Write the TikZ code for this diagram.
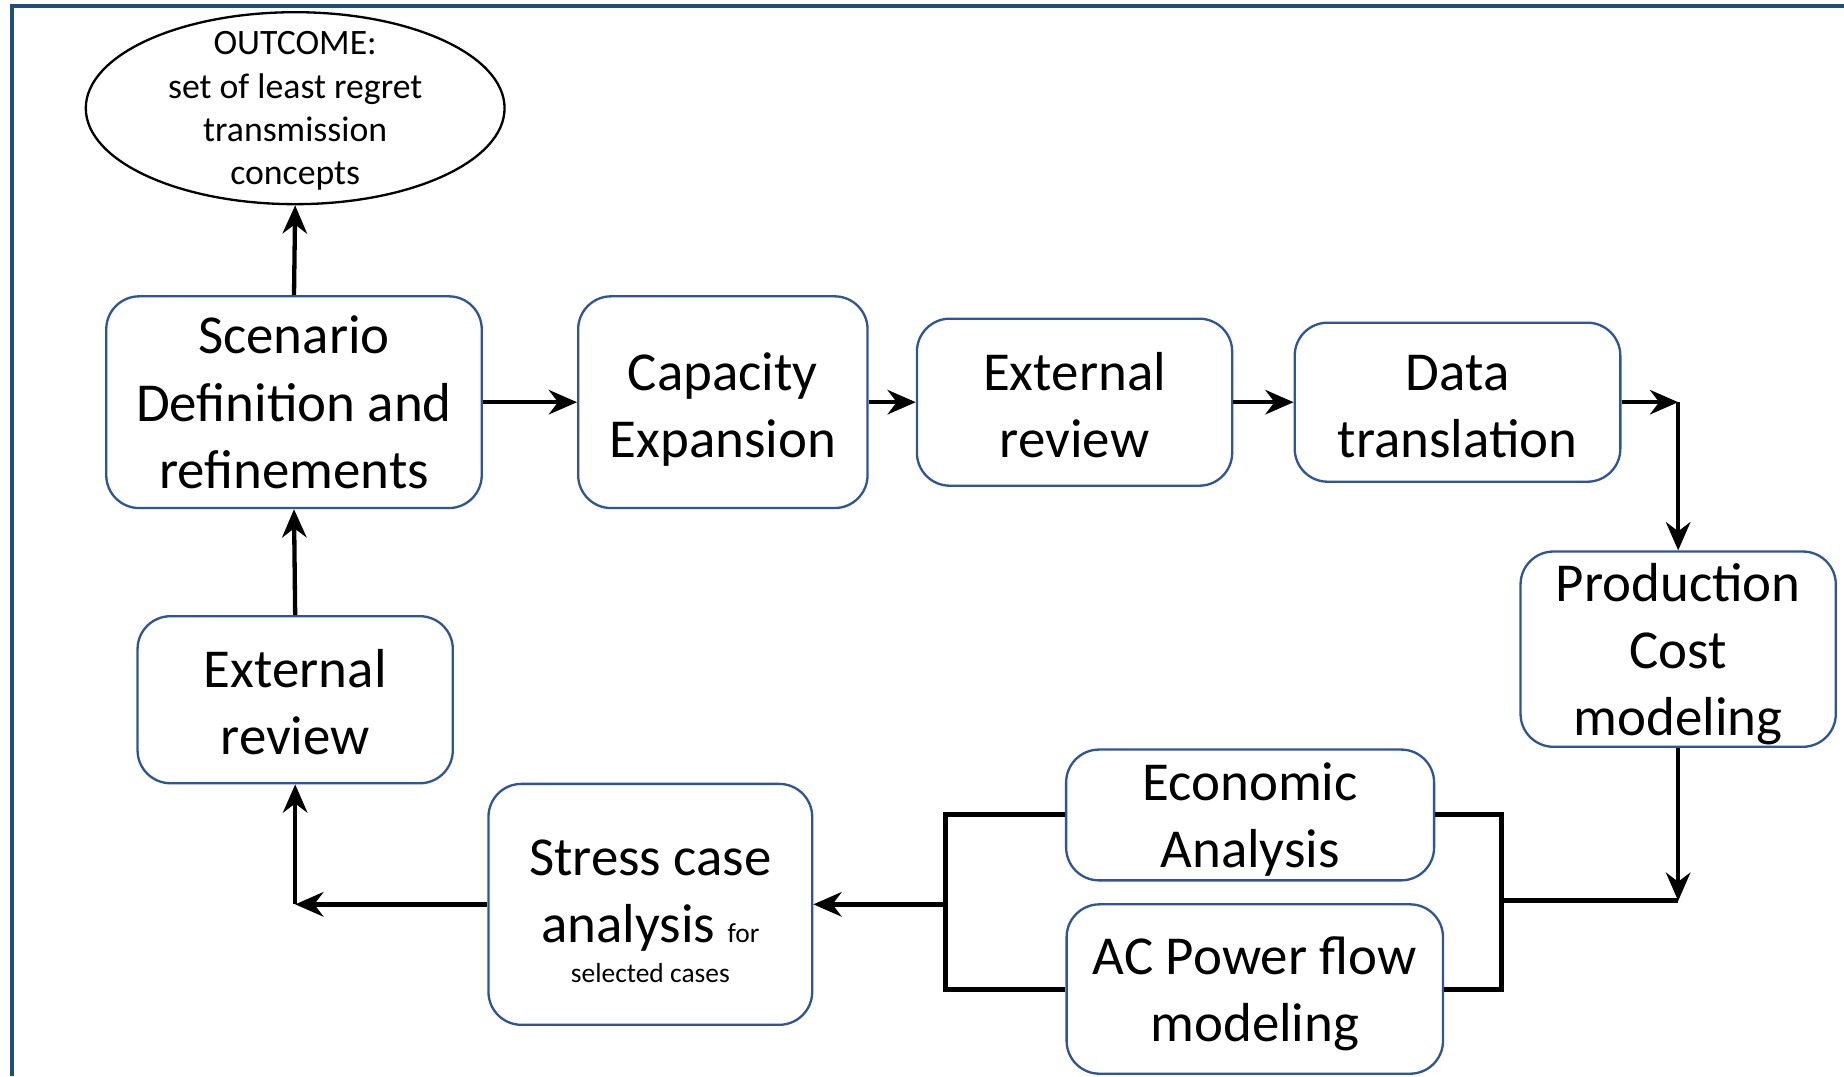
\documentclass[tikz,border=0pt]{standalone}
\usepackage{fontspec}
\setmainfont{Carlito}
\usetikzlibrary{arrows.meta,positioning,shapes.geometric}
\definecolor{boxblue}{RGB}{47,85,151}
\definecolor{framblue}{RGB}{31,78,121}
\newcommand{\smtxt}{\fontsize{8.3}{10}\selectfont}
\newcommand{\tp}[1]{\rule{0pt}{#1}}
\tikzset{
  blk/.style={draw=boxblue,line width=.7pt,rounded corners=3.5mm,fill=white,
              align=center,inner sep=2pt,font=\fontsize{16.6}{20.3}\selectfont,
              text depth=-1.4pt},
  outc/.style={draw=black,line width=.7pt,ellipse,align=center,inner xsep=0pt,
               inner ysep=-6pt,font=\fontsize{10.8}{13.1}\selectfont,
               text depth=-0.6pt},
  arr/.style={-{Stealth[length=3mm,width=2.6mm]},line width=1.3pt},
  brk/.style={line width=1.5pt},
}

\begin{document}
\begin{tikzpicture}[x=0.0125cm,y=-0.0125cm]
  \useasboundingbox (0,0) rectangle (1568,915);
  \draw[framblue,line width=1.2pt] (1568,5) -| (10,915);

  \node[outc,minimum width=4.45cm,minimum height=2.04cm] (out) at (251,92)
       {OUTCOME:\\set of least regret\\transmission\\concepts};
  \node[blk,minimum width=3.99cm,minimum height=2.25cm] (sc) at (250,342)
       {Scenario\\Definition and\\refinements};
  \node[blk,minimum width=3.075cm,minimum height=2.25cm] (cap) [right=1.0cm of sc]
       {\tp{13pt}Capacity\\Expansion};
  \node[blk,minimum width=3.35cm,minimum height=1.775cm] (ext1) [right=0.5cm of cap]
       {\tp{13pt}External\\review};
  \node[blk,minimum width=3.46cm,minimum height=1.69cm] (dt) [right=0.64cm of ext1]
       {\tp{13pt}Data\\translation};
  \node[blk,minimum width=3.35cm,minimum height=2.075cm] (prod) at (1427,552)
       {Production\\Cost\\modeling};
  \node[blk,minimum width=3.91cm,minimum height=1.39cm] (eco) at (1063,693)
       {Economic\\Analysis};
  \node[blk,minimum width=4.0cm,minimum height=1.8cm] (acp) at (1067,841)
       {AC Power flow\\modeling};
  \node[blk,minimum width=3.44cm,minimum height=2.56cm] (st) at (553,769)
       {\tp{15pt}Stress case\\analysis {\smtxt for}\\[-8.3pt]{\smtxt selected cases}};
  \node[blk,minimum width=3.35cm,minimum height=1.775cm] (ext2) at (251,595)
       {\tp{13pt}External\\review};

  % top row
  \draw[arr] (sc.north) -- (out.south);
  \draw[arr] (sc) -- (cap);
  \draw[arr] (cap) -- (ext1);
  \draw[arr] (ext1) -- (dt);
  \coordinate (c1) at (prod.north |- dt.east);
  \draw[arr] (dt.east) -- (c1);
  \draw[arr] (c1) -- (prod.north);

  % parallel step
  \coordinate (rb) at (1277,766);
  \coordinate (c2) at (prod.south |- rb);
  \draw[arr] (prod.south) -- (c2);
  \draw[brk] (c2) -- (rb);
  \draw[brk] (eco.east) -| (rb) |- (acp.east);
  \coordinate (lb) at (804,769);
  \draw[brk] (eco.west) -| (lb) |- (acp.west);
  \draw[arr] (lb) -- (st.east);

  % back to scenario
  \coordinate (c3) at (ext2.south |- st.west);
  \draw[arr] (st.west) -- (c3);
  \draw[arr] (c3) -- (ext2.south);
  \draw[arr] (ext2.north) -- (sc.south);
\end{tikzpicture}
\end{document}
